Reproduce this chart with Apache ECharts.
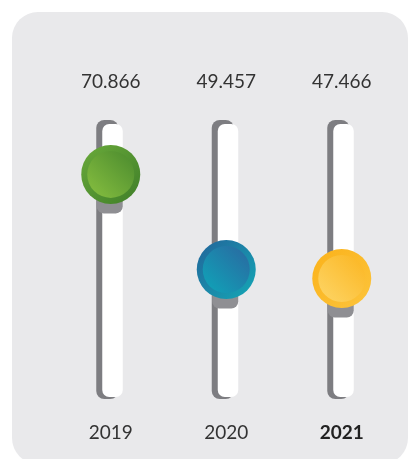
<!DOCTYPE html>
<html>
<head>
<meta charset="utf-8">
<script src="https://cdn.jsdelivr.net/npm/echarts@6/dist/echarts.min.js"></script>
<style>html,body{margin:0;padding:0;background:#fff;}#c{width:409px;height:459px;}</style>
</head>
<body>
<div id="c"></div>
<script>
var categories = ['2019', '2020', '2021'];
var values = [70.866, 49.457, 47.466];
var valueLabels = ['70.866', '49.457', '47.466'];
var axisMin = 20.8;
var axisMax = 82.2;

var knobStyles = [
  { ring: ['#6aaa3a', '#3f7e29'], inner: ['#88c040', '#4a8a2e'] },
  { ring: ['#22649a', '#14a8b6'], inner: ['#0ea6b9', '#2b67a0'] },
  { ring: ['#fbb21a', '#fcc43c'], inner: ['#fdd668', '#fbb520'] }
];

var chart = echarts.init(document.getElementById('c'), null, { renderer: 'canvas' });

function lin(x, y, x2, y2, c1, c2) {
  return { type: 'linear', x: x, y: y, x2: x2, y2: y2, global: false,
    colorStops: [{ offset: 0, color: c1 }, { offset: 1, color: c2 }] };
}

var option = {
  animation: false,
  backgroundColor: '#ffffff',
  graphic: [{
    type: 'rect', z: -10, silent: true,
    shape: { x: 12, y: 12, width: 396, height: 452, r: 26 },
    style: { fill: '#e9e9eb' }
  }],
  grid: { left: 53, width: 346.5, top: 124, height: 273 },
  xAxis: [{
    type: 'category', data: categories, position: 'bottom',
    axisLine: { show: false }, axisTick: { show: false },
    axisLabel: {
      margin: 26,
      formatter: function (v, i) { return i === 2 ? '{b|' + v + '}' : '{n|' + v + '}'; },
      rich: {
        n: { fontFamily: 'Lato', fontSize: 19, color: '#333333' },
        b: { fontFamily: 'Lato', fontSize: 19, fontWeight: 'bold', color: '#222222' }
      }
    }
  }, {
    type: 'category', data: valueLabels, position: 'top',
    axisLine: { show: false }, axisTick: { show: false },
    axisLabel: { margin: 33, fontFamily: 'Lato', fontSize: 19, color: '#333333' }
  }],
  yAxis: {
    type: 'value', min: axisMin, max: axisMax,
    show: false, splitLine: { show: false }
  },
  series: [{
    type: 'custom',
    data: values.map(function (v, i) { return [i, v]; }),
    renderItem: function (params, api) {
      var i = api.value(0);
      var v = api.value(1);
      var top = api.coord([i, axisMax]);
      var bot = api.coord([i, axisMin]);
      var c = api.coord([i, v]);
      var cx = c[0], cy = c[1];
      var s = knobStyles[params.dataIndex];
      var R = 29.5, r = 23.5;
      return {
        type: 'group',
        children: [
          { type: 'rect', shape: { x: cx - 14.5, y: top[1] - 4, width: 22, height: bot[1] - top[1] + 6, r: 8 },
            style: { fill: '#7d7d81' } },
          { type: 'rect', shape: { x: cx - 8.5, y: top[1], width: 20.5, height: bot[1] - top[1], r: 7 },
            style: { fill: '#ffffff' } },
          { type: 'rect', shape: { x: cx - 14, y: cy, width: 26, height: 39, r: [0, 0, 7, 7] },
            style: { fill: '#8f8f93' } },
          { type: 'circle', shape: { cx: cx, cy: cy, r: R },
            style: { fill: lin(0, 0, 1, 1, s.ring[0], s.ring[1]) } },
          { type: 'circle', shape: { cx: cx, cy: cy, r: r },
            style: { fill: lin(0, 1, 1, 0, s.inner[0], s.inner[1]) } }
        ]
      };
    }
  }]
};
chart.setOption(option);
</script>
</body>
</html>
